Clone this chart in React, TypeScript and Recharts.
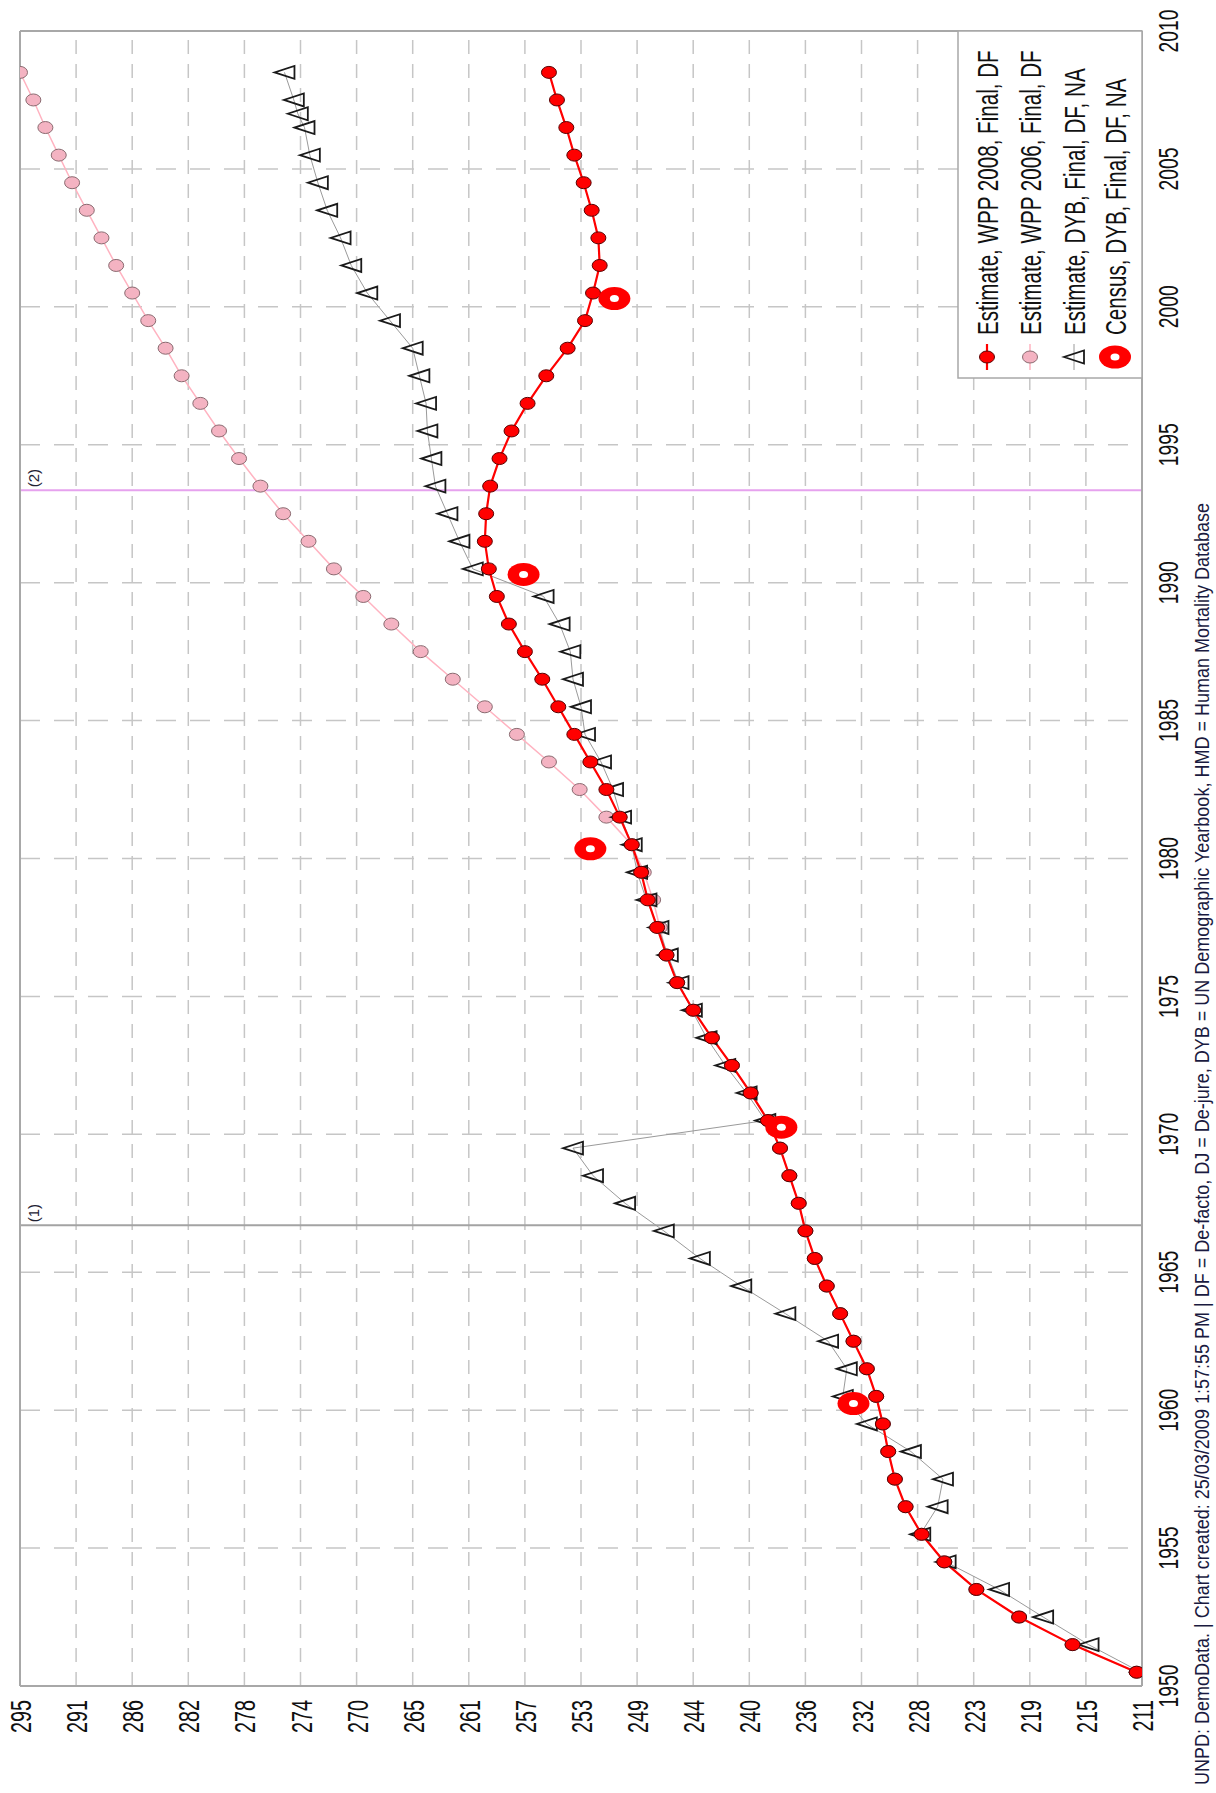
import React from 'react';
import { ComposedChart, Line, XAxis, YAxis, CartesianGrid, ReferenceLine } from 'recharts';

// chart is drawn landscape, then turned a quarter turn to match the page
const W = 1793;
const H = 1216;
const FONT = "'Liberation Sans', Arial, sans-serif";

const years = [
  1950, 1951, 1952, 1953, 1954, 1955, 1956, 1957, 1958, 1959,
  1960, 1961, 1962, 1963, 1964, 1965, 1966, 1967, 1968, 1969,
  1970, 1971, 1972, 1973, 1974, 1975, 1976, 1977, 1978, 1979,
  1980, 1981, 1982, 1983, 1984, 1985, 1986, 1987, 1988, 1989,
  1990, 1991, 1992, 1993, 1994, 1995, 1996, 1997, 1998, 1999,
  2000, 2001, 2002, 2003, 2004, 2005, 2006, 2007, 2008,
];

const wpp2008 = [
  211.2, 216.0, 220.0, 223.2, 225.6, 227.3, 228.5, 229.3, 229.8, 230.2,
  230.7, 231.4, 232.4, 233.4, 234.4, 235.3, 236.0, 236.5, 237.2, 237.9,
  238.8, 240.1, 241.5, 243.0, 244.4, 245.6, 246.4, 247.1, 247.8, 248.3,
  249.0, 249.9, 250.9, 252.1, 253.3, 254.5, 255.7, 257.0, 258.2, 259.1,
  259.7, 260.0, 259.9, 259.6, 258.9, 258.0, 256.8, 255.4, 253.8, 252.5,
  251.9, 251.4, 251.5, 252.0, 252.6, 253.3, 253.9, 254.6, 255.2,
];

const wpp2006 = [
  211.2, 216.0, 220.0, 223.2, 225.6, 227.3, 228.5, 229.3, 229.8, 230.2,
  230.7, 231.4, 232.4, 233.4, 234.4, 235.3, 236.0, 236.5, 237.2, 237.9,
  238.8, 240.1, 241.5, 243.0, 244.4, 245.6, 246.4, 246.9, 247.4, 248.1,
  249.0, 250.9, 252.9, 255.2, 257.6, 260.0, 262.4, 264.8, 267.0, 269.1,
  271.3, 273.2, 275.1, 276.8, 278.4, 279.9, 281.3, 282.7, 283.9, 285.2,
  286.4, 287.6, 288.7, 289.8, 290.9, 291.9, 292.9, 293.8, 294.8,
];

const dybYears = [
  1950.5, 1951.5, 1952.5, 1953.5, 1954.5, 1955.5, 1956.5, 1957.5, 1958.5, 1959.5,
  1960.5, 1961.5, 1962.5, 1963.5, 1964.5, 1965.5, 1966.5, 1967.5, 1968.5, 1969.5,
  1970.5, 1971.5, 1972.5, 1973.5, 1974.5, 1975.5, 1976.5, 1977.5, 1978.5, 1979.5,
  1980.5, 1981.5, 1982.5, 1983.5, 1984.5, 1985.5, 1986.5, 1987.5, 1988.5, 1989.5,
  1990.5, 1991.5, 1992.5, 1993.5, 1994.5, 1995.5, 1996.5, 1997.5, 1998.5, 1999.5,
  2000.5, 2001.5, 2002.5, 2003.5, 2004.5, 2005.5, 2006.5, 2007.0, 2007.5, 2008.5,
];

const dybValues = [
  210.9, 214.8, 218.2, 221.5, 225.5, 227.4, 226.1, 225.7, 228.1, 231.4,
  233.2, 232.9, 234.3, 237.5, 240.8, 243.9, 246.6, 249.5, 251.9, 253.4,
  239.0, 240.4, 242.0, 243.4, 244.5, 245.5, 246.3, 247.0, 247.9, 248.6,
  249.0, 249.8, 250.4, 251.3, 252.5, 252.8, 253.4, 253.6, 254.4, 255.6,
  260.9, 261.9, 262.8, 263.7, 264.0, 264.3, 264.4, 264.9, 265.4, 267.1,
  268.8, 270.0, 270.8, 271.8, 272.5, 273.1, 273.5, 274.0, 274.3, 275.0,
];

const censusYears = [1960.24, 1970.26, 1980.35, 1990.3, 2000.3];
const censusValues = [232.4, 237.8, 252.1, 257.1, 250.3];

const yearTicks = [1950, 1955, 1960, 1965, 1970, 1975, 1980, 1985, 1990, 1995, 2000, 2005, 2010];
const valueTicks = [
  210.8, 215, 219.2, 223.4, 227.6, 231.8, 236, 240.2, 244.4, 248.6, 252.8,
  257, 261.2, 265.4, 269.6, 273.8, 278, 282.2, 286.4, 290.6, 294.8,
];

const markers = [
  { year: 1966.7, label: '(1)', color: '#a3a3a3' },
  { year: 1993.35, label: '(2)', color: '#e6a2ee' },
];

const legendItems = [
  { name: 'Estimate, WPP 2008, Final, DF', kind: 'red' },
  { name: 'Estimate, WPP 2006, Final, DF', kind: 'pink' },
  { name: 'Estimate, DYB, Final, DF, NA', kind: 'tri' },
  { name: 'Census, DYB, Final, DF, NA', kind: 'ring' },
];

const footer =
  'UNPD: DemoData. | Chart created: 25/03/2009 1:57:55 PM | DF = De-facto, DJ = De-jure, DYB = UN Demographic Yearbook, HMD = Human Mortality Database';

// estimates sit at mid-year
const redData = years.map((y, i) => ({ x: y + 0.5, v: wpp2008[i] }));
const pinkData = years.map((y, i) => ({ x: y + 0.5, v: wpp2006[i] }));
const dybData = dybYears.map((y, i) => ({ x: y, v: dybValues[i] }));
const censusData = censusYears.map((y, i) => ({ x: y, v: censusValues[i] }));

const TOP = 20;
const BOTTOM = 1142;
const LEFT = 107;
const RIGHT = 1762;

// the source used a narrow face, squeeze glyphs horizontally
const Narrow = ({ x, y, size, sx, anchor = 'start', fill = '#111', children }: any) => (
  <text
    transform={`translate(${x} ${y}) scale(${sx} 1)`}
    x={0}
    y={0}
    textAnchor={anchor}
    fontFamily={FONT}
    fontSize={size}
    fill={fill}
  >
    {children}
  </text>
);

const redDot = (p: any) => (
  <ellipse key={`r${p.index}`} cx={p.cx} cy={p.cy} rx={6} ry={7.5} fill="#ff0000" stroke="#5a0000" strokeWidth={1} />
);
const pinkDot = (p: any) => (
  <ellipse key={`p${p.index}`} cx={p.cx} cy={p.cy} rx={6} ry={7.5} fill="#f4b3c2" stroke="#8a6a70" strokeWidth={1} />
);
const triShape = (cx: number, cy: number, key?: string) => (
  <polygon
    key={key}
    points={`${cx},${cy - 10} ${cx - 6.5},${cy + 10} ${cx + 6.5},${cy + 10}`}
    fill="none"
    stroke="#1a1a1a"
    strokeWidth={1.8}
  />
);
const triDot = (p: any) => triShape(p.cx, p.cy, `t${p.index}`);
const ringShape = (cx: number, cy: number, key?: string) => (
  <g key={key}>
    <ellipse cx={cx} cy={cy} rx={11.5} ry={16} fill="#ff0000" />
    <ellipse cx={cx} cy={cy} rx={3.5} ry={4.5} fill="#fff" />
  </g>
);
const ringDot = (p: any) => ringShape(p.cx, p.cy, `c${p.index}`);

const yearTick = (p: any) => (
  <Narrow x={p.x} y={BOTTOM + 36} size={28} sx={0.69} anchor="middle">
    {p.payload.value}
  </Narrow>
);

const valueTick = (p: any) => (
  <Narrow x={93} y={p.y + 11} size={30} sx={0.66} anchor="end">
    {Math.round(p.payload.value)}
  </Narrow>
);

const markerLabel = (text: string) => (p: any) => (
  <text x={p.viewBox.x + 3} y={p.viewBox.y + 19} fontFamily={FONT} fontSize={15} fill="#223">
    {text}
  </text>
);

export default function App() {
  const rowY = [987, 1030, 1074, 1115];
  return (
    <div style={{ position: 'absolute', left: 0, top: 0, width: 1216, height: 1793, overflow: 'hidden', background: '#fff' }}>
      <div
        style={{
          position: 'absolute',
          left: 0,
          top: 0,
          width: W,
          height: H,
          transformOrigin: '0 0',
          transform: `translateY(${W}px) rotate(-90deg)`,
        }}
      >
        <ComposedChart width={W} height={H} margin={{ top: TOP, right: W - RIGHT, bottom: 0, left: 0 }}>
          <CartesianGrid vertical={false} stroke="#c6c6c6" strokeWidth={1.5} strokeDasharray="14 10" />
          <CartesianGrid horizontal={false} stroke="#c6c6c6" strokeWidth={1.5} strokeDasharray="20 14" />
          <XAxis
            type="number"
            dataKey="x"
            domain={[1950, 2010]}
            ticks={yearTicks}
            interval={0}
            allowDataOverflow
            axisLine={false}
            tickLine={false}
            height={H - BOTTOM}
            tick={yearTick}
          />
          <YAxis
            type="number"
            dataKey="v"
            domain={[210.8, 294.8]}
            ticks={valueTicks}
            interval={0}
            allowDataOverflow
            axisLine={false}
            tickLine={false}
            width={LEFT}
            tick={valueTick}
          />
          {markers.map((m) => (
            <ReferenceLine
              key={m.label}
              x={m.year}
              stroke={m.color}
              strokeWidth={2}
              label={{ content: markerLabel(m.label) }}
            />
          ))}
          <ReferenceLine x={1950} stroke="#a8a8a8" strokeWidth={2} />
          <ReferenceLine x={2010} stroke="#a8a8a8" strokeWidth={2} />
          <ReferenceLine y={210.8} stroke="#a8a8a8" strokeWidth={2} />
          <ReferenceLine y={294.8} stroke="#a8a8a8" strokeWidth={2} />
          <Line data={pinkData} dataKey="v" type="linear" stroke="#ffb3c1" strokeWidth={1.5} dot={pinkDot} activeDot={false} isAnimationActive={false} />
          <Line data={dybData} dataKey="v" type="linear" stroke="#9a9a9a" strokeWidth={1} dot={triDot} activeDot={false} isAnimationActive={false} />
          <Line data={redData} dataKey="v" type="linear" stroke="#ff0000" strokeWidth={2.2} dot={redDot} activeDot={false} isAnimationActive={false} />
          <Line data={censusData} dataKey="v" type="linear" stroke="none" dot={ringDot} activeDot={false} isAnimationActive={false} />
        </ComposedChart>
        <svg width={W} height={H} style={{ position: 'absolute', left: 0, top: 0, pointerEvents: 'none' }}>
          <rect x={1415} y={958} width={RIGHT - 1415} height={BOTTOM - 958} fill="#fff" stroke="#a8a8a8" strokeWidth={1.5} />
          {legendItems.map((it, i) => {
            const cy = rowY[i];
            const cx = 1436;
            return (
              <g key={it.name}>
                {it.kind === 'red' && (
                  <g>
                    <line x1={cx - 13} x2={cx + 13} y1={cy} y2={cy} stroke="#ff0000" strokeWidth={2.2} />
                    <ellipse cx={cx} cy={cy} rx={6} ry={7.5} fill="#ff0000" stroke="#5a0000" strokeWidth={1} />
                  </g>
                )}
                {it.kind === 'pink' && (
                  <g>
                    <line x1={cx - 13} x2={cx + 13} y1={cy} y2={cy} stroke="#ffb3c1" strokeWidth={1.5} />
                    <ellipse cx={cx} cy={cy} rx={6} ry={7.5} fill="#f4b3c2" stroke="#8a6a70" strokeWidth={1} />
                  </g>
                )}
                {it.kind === 'tri' && (
                  <g>
                    <line x1={cx - 13} x2={cx + 13} y1={cy} y2={cy} stroke="#9a9a9a" strokeWidth={1} />
                    {triShape(cx, cy)}
                  </g>
                )}
                {it.kind === 'ring' && ringShape(cx, cy)}
                <Narrow x={1458} y={cy + 11} size={30} sx={0.687}>
                  {it.name}
                </Narrow>
              </g>
            );
          })}
          <text
            x={8}
            y={1209}
            fontFamily={FONT}
            fontSize={20}
            fill="#1a1a40"
            textLength={1282}
            lengthAdjust="spacingAndGlyphs"
          >
            {footer}
          </text>
        </svg>
      </div>
    </div>
  );
}
